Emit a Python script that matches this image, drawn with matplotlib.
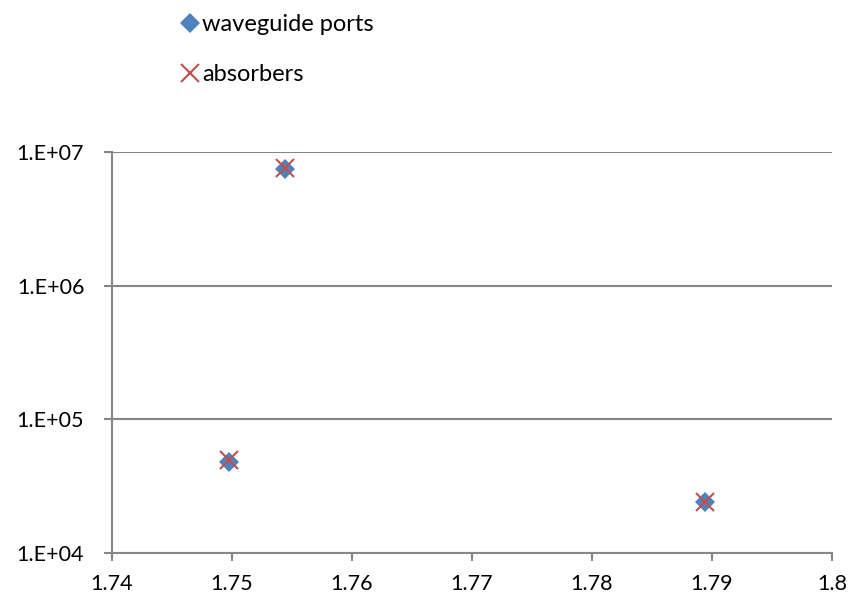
import matplotlib
matplotlib.use('Agg')
from matplotlib import pyplot as plt

# frequency vs. quality factor for both boundary setups
freq_ports = [1.74978, 1.75442, 1.78944]
q_ports = [4.8e4, 7.4e6, 2.4e4]
freq_abs = [1.74978, 1.75442, 1.78944]
q_abs = [4.95e4, 7.6e6, 2.4e4]

xticks = [1.74, 1.75, 1.76, 1.77, 1.78, 1.79, 1.8]
xticklabels = ['1.74', '1.75', '1.76', '1.77', '1.78', '1.79', '1.8']
yticks = [1e4, 1e5, 1e6, 1e7]
yticklabels = ['1.E+04', '1.E+05', '1.E+06', '1.E+07']

plt.rcParams['font.family'] = ['Lato', 'DejaVu Sans']
grey = '#868686'

fig = plt.figure(figsize=(8.66, 6.06), dpi=100)
ax = fig.add_axes([0.1293, 0.0875, 0.8314, 0.6617])

p1, = ax.plot(freq_ports, q_ports, 'D', color='#4F81BD', markersize=10.5,
              markeredgewidth=0, label='waveguide ports', zorder=3)
p2, = ax.plot(freq_abs, q_abs, 'x', color='#C0504D', markersize=13.5,
              markeredgewidth=1.5, label='absorbers', zorder=4)

ax.set_yscale('log')
ax.set_xlim(1.74, 1.8)
ax.set_ylim(1e4, 1e7)
ax.set_xticks(xticks)
ax.set_xticklabels(xticklabels)
ax.set_yticks(yticks)
ax.set_yticklabels(yticklabels)
ax.minorticks_off()
ax.tick_params(axis='both', labelsize=15.5, colors=grey, labelcolor='black',
               length=6, width=1.5, pad=9)
ax.tick_params(axis='y', pad=14)
ax.yaxis.grid(True, color=grey, linewidth=1.5)
ax.set_axisbelow(True)
for side in ['top', 'right']:
    ax.spines[side].set_visible(False)
for side in ['left', 'bottom']:
    ax.spines[side].set_color(grey)
    ax.spines[side].set_linewidth(1.5)

fig.legend(handles=[p1, p2], loc='upper left', bbox_to_anchor=(0.187, 1.012),
           frameon=False, fontsize=17, handlelength=0.55, handletextpad=0.25,
           labelspacing=1.25)

fig.savefig('out.png', dpi=100)
